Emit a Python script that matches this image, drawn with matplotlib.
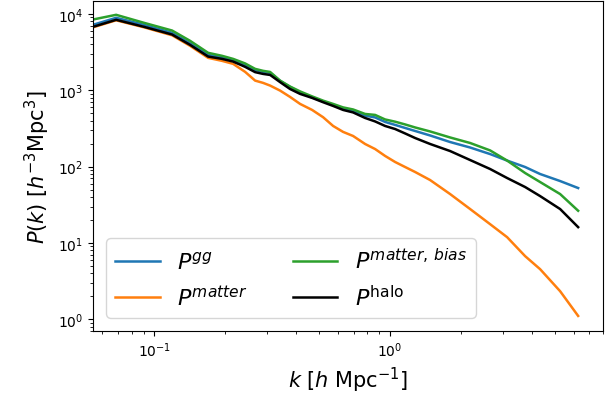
import matplotlib
matplotlib.use("Agg")
import numpy as np
import matplotlib.pyplot as plt

# wavenumber bins [h/Mpc]
k = [0.0549, 0.0688, 0.0904, 0.1189, 0.1417, 0.1690, 0.1937, 0.2158, 0.2426,
     0.2675, 0.2891, 0.3097, 0.3414, 0.3763, 0.4151, 0.4668, 0.5197, 0.5731,
     0.6318, 0.6966, 0.7832, 0.8637, 0.9523, 1.050, 1.158, 1.277, 1.478,
     1.797, 2.185, 2.657, 3.136, 3.740, 4.329, 5.264, 6.277]

# galaxy-galaxy power spectrum
p_gg = [7220, 8915, 7220, 5670, 4130, 2915, 2700, 2506, 2154, 1852, 1744, 1692,
        1329, 1108, 938, 807, 715, 643, 579, 537, 466, 441, 385, 352, 321, 293,
        256, 210, 178, 146, 120, 98.8, 80.0, 64.7, 52.4]

# linear-ish matter power spectrum
p_matter = [6690, 8270, 6690, 5255, 3825, 2662, 2431, 2221, 1744, 1340, 1251,
            1153, 991, 819, 663, 553, 444, 341, 285, 252, 198, 170, 138, 115,
            98.8, 85.0, 66.7, 43.7, 27.8, 17.6, 11.9, 6.71, 4.53, 2.33, 1.105]

# matter spectrum times bias
p_matter_bias = [8470, 9760, 7660, 6070, 4450, 3100, 2830, 2580, 2250, 1910,
                 1800, 1740, 1340, 1120, 967, 832, 732, 663, 597, 561, 490, 476,
                 415, 388, 357, 326, 289, 241, 204, 163, 120, 82.4, 62.8, 43.7,
                 26.4]

# halo power spectrum
p_halo = [6790, 8390, 6790, 5380, 3940, 2770, 2580, 2380, 2030, 1730, 1640,
          1590, 1280, 1040, 897, 795, 698, 624, 553, 513, 434, 391, 341, 311,
          272, 237, 198, 160, 122, 93.0, 70.9, 54.0, 41.1, 27.8, 16.1]

fig = plt.figure(figsize=(6.06, 4.02), dpi=100)
ax = fig.add_axes([0.1535, 0.174, 0.8415, 0.821])

ax.loglog(k, p_gg, color="C0", lw=1.8, label=r"$P^{gg}$")
ax.loglog(k, p_matter, color="C1", lw=1.8, label=r"$P^{matter}$")
ax.loglog(k, p_matter_bias, color="C2", lw=1.8, label=r"$P^{matter,\,bias}$")
ax.loglog(k, p_halo, color="k", lw=1.8, label=r"$P^{\rm halo}$")

ax.set_xlim(0.0549, 8.0)
ax.set_ylim(0.70, 14800)

ax.set_xlabel(r"$k$ [$h$ Mpc$^{-1}$]", fontsize=15)
ax.set_ylabel(r"$P(k)$ [$h^{-3}$Mpc$^3$]", fontsize=15)

ax.legend(loc="lower left", ncol=2, fontsize=16, borderaxespad=0.6,
          columnspacing=2.0)

fig.savefig("out.png", dpi=100)
